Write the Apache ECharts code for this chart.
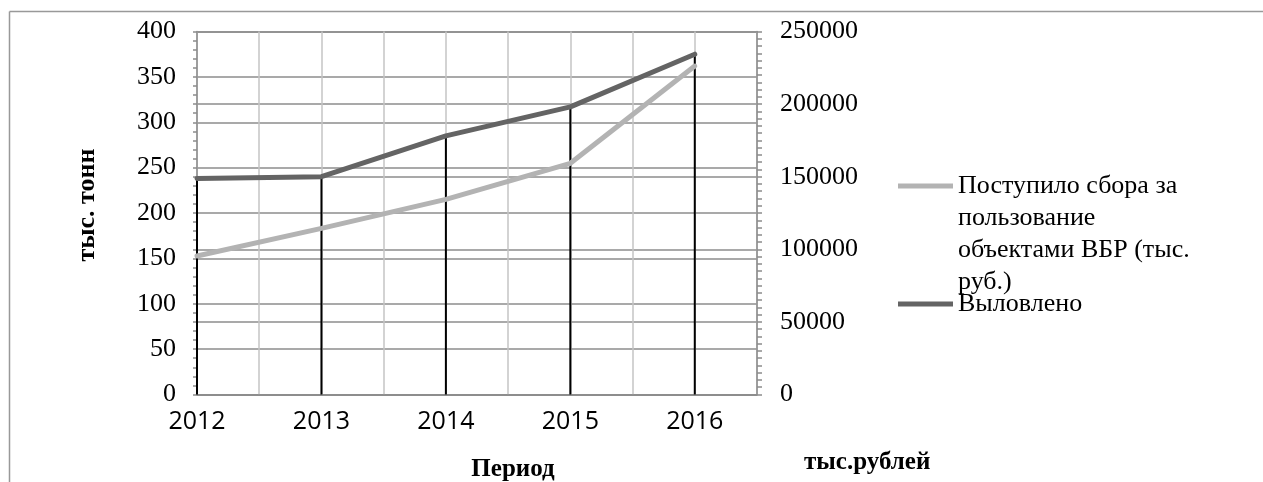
<!DOCTYPE html>
<html>
<head>
<meta charset="utf-8">
<script src="https://cdn.jsdelivr.net/npm/echarts@6/dist/echarts.min.js"></script>
<style>
  html, body { margin: 0; padding: 0; background: #fff; }
  #chart { width: 1263px; height: 482px; }
</style>
</head>
<body>
<div id="chart"></div>
<script>
    // годы
    var years = [2012, 2013, 2014, 2015, 2016];
    // Поступило сбора (тыс. руб.) - правая ось
    var sborValues = [95400, 114400, 134400, 159200, 226200];
    // Выловлено (тыс. тонн) - левая ось
    var ulovValues = [238, 240, 285, 317, 375];
    var seriesNames = ['Поступило сбора за\nпользование\nобъектами ВБР (тыс.\nруб.)', 'Выловлено'];

    var serif = '"Liberation Serif", "Times New Roman", serif';
    var gridColor = '#8c8c8c';

    function pairs(vals) {
        return years.map(function (y, i) { return [y, vals[i]]; });
    }

    var chart = echarts.init(document.getElementById('chart'));

    var option = {
        animation: false,
        backgroundColor: '#fff',
        grid: { left: 197, right: 506, top: 31.5, bottom: 87.5, containLabel: false, outerBoundsMode: 'none' },
        legend: [{
            data: [seriesNames[0]],
            orient: 'vertical',
            left: 893,
            top: 69,
            padding: 5,
            icon: 'rect',
            itemWidth: 55,
            itemHeight: 5,
            // пустые строки сверху, чтобы значок стоял у первой строки
            formatter: function (name) { return '\n\n\n' + name; },
            textStyle: { fontFamily: serif, fontSize: 26, color: '#000', lineHeight: 32 }
        }, {
            data: [seriesNames[1]],
            orient: 'vertical',
            left: 893,
            top: 283,
            padding: 5,
            icon: 'rect',
            itemWidth: 55,
            itemHeight: 5,
            textStyle: { fontFamily: serif, fontSize: 26, color: '#000', lineHeight: 32 }
        }],
        xAxis: {
            type: 'value',
            min: 2012,
            max: 2016.5,
            interval: 0.5,
            name: 'Период',
            nameLocation: 'middle',
            nameGap: 63,
            nameTextStyle: {
                fontFamily: serif, fontSize: 25, fontWeight: 'bold', color: '#000',
                padding: [0, 0, 0, 72]
            },
            axisLine: { lineStyle: { color: gridColor, width: 1.5 } },
            axisTick: { show: false },
            axisLabel: {
                margin: 15,
                fontFamily: '"Open Sans", sans-serif', fontSize: 25, color: '#000',
                formatter: function (v) {
                    return (Math.round(v) === v && v <= 2016) ? String(v) : '';
                }
            },
            splitLine: { show: true, lineStyle: { color: '#c4c4c4', width: 1.5 } }
        },
        yAxis: [{
            type: 'value',
            min: 0,
            max: 400,
            interval: 50,
            name: 'тыс. тонн',
            nameLocation: 'middle',
            nameGap: 97,
            nameTextStyle: { fontFamily: serif, fontSize: 26, fontWeight: 'bold', color: '#000', padding: [0, 0, 0, 16] },
            axisLine: { show: true, lineStyle: { color: gridColor, width: 1.5 } },
            axisTick: { show: true, length: 4, lineStyle: { color: gridColor, width: 1.5 } },
            minorTick: { show: true, splitNumber: 5, length: 4, lineStyle: { color: gridColor, width: 1.5 } },
            axisLabel: { margin: 21, fontFamily: serif, fontSize: 26, color: '#000' },
            splitLine: { lineStyle: { color: gridColor, width: 1.5 } }
        }, {
            type: 'value',
            min: 0,
            max: 250000,
            interval: 50000,
            position: 'right',
            axisLine: { show: true, lineStyle: { color: gridColor, width: 1.5 } },
            axisTick: { show: true, length: 5, lineStyle: { color: gridColor, width: 1.5 } },
            minorTick: { show: true, splitNumber: 10, length: 5, lineStyle: { color: gridColor, width: 1.5 } },
            axisLabel: {
                margin: 23, fontFamily: serif, fontSize: 26, color: '#000',
                formatter: function (v) { return String(v); }
            },
            splitLine: { show: true, lineStyle: { color: gridColor, width: 1.5 } }
        }],
        graphic: [
            { type: 'line', shape: { x1: 9.5, y1: 11.5, x2: 1263, y2: 11.5 }, style: { stroke: '#999', lineWidth: 1.5 } },
            { type: 'line', shape: { x1: 9.5, y1: 11.5, x2: 9.5, y2: 482 }, style: { stroke: '#999', lineWidth: 1.5 } },
            {
                type: 'text', left: 804, top: 450,
                style: { text: 'тыс.рублей', font: 'bold 25px ' + serif, fill: '#000' }
            }
        ],
        series: [{
            // линии проекции
            type: 'bar',
            yAxisIndex: 0,
            barWidth: 2,
            silent: true,
            itemStyle: { color: '#000' },
            data: pairs(ulovValues),
            z: 2
        }, {
            name: seriesNames[0],
            type: 'line',
            yAxisIndex: 1,
            showSymbol: false,
            symbol: 'none',
            color: '#b3b3b3',
            lineStyle: { color: '#b3b3b3', width: 5, cap: 'round' },
            data: pairs(sborValues),
            z: 3
        }, {
            name: seriesNames[1],
            type: 'line',
            yAxisIndex: 0,
            showSymbol: false,
            symbol: 'none',
            color: '#646464',
            lineStyle: { color: '#646464', width: 5, cap: 'round' },
            data: pairs(ulovValues),
            z: 4
        }]
    };

    chart.setOption(option);
</script>
</body>
</html>
